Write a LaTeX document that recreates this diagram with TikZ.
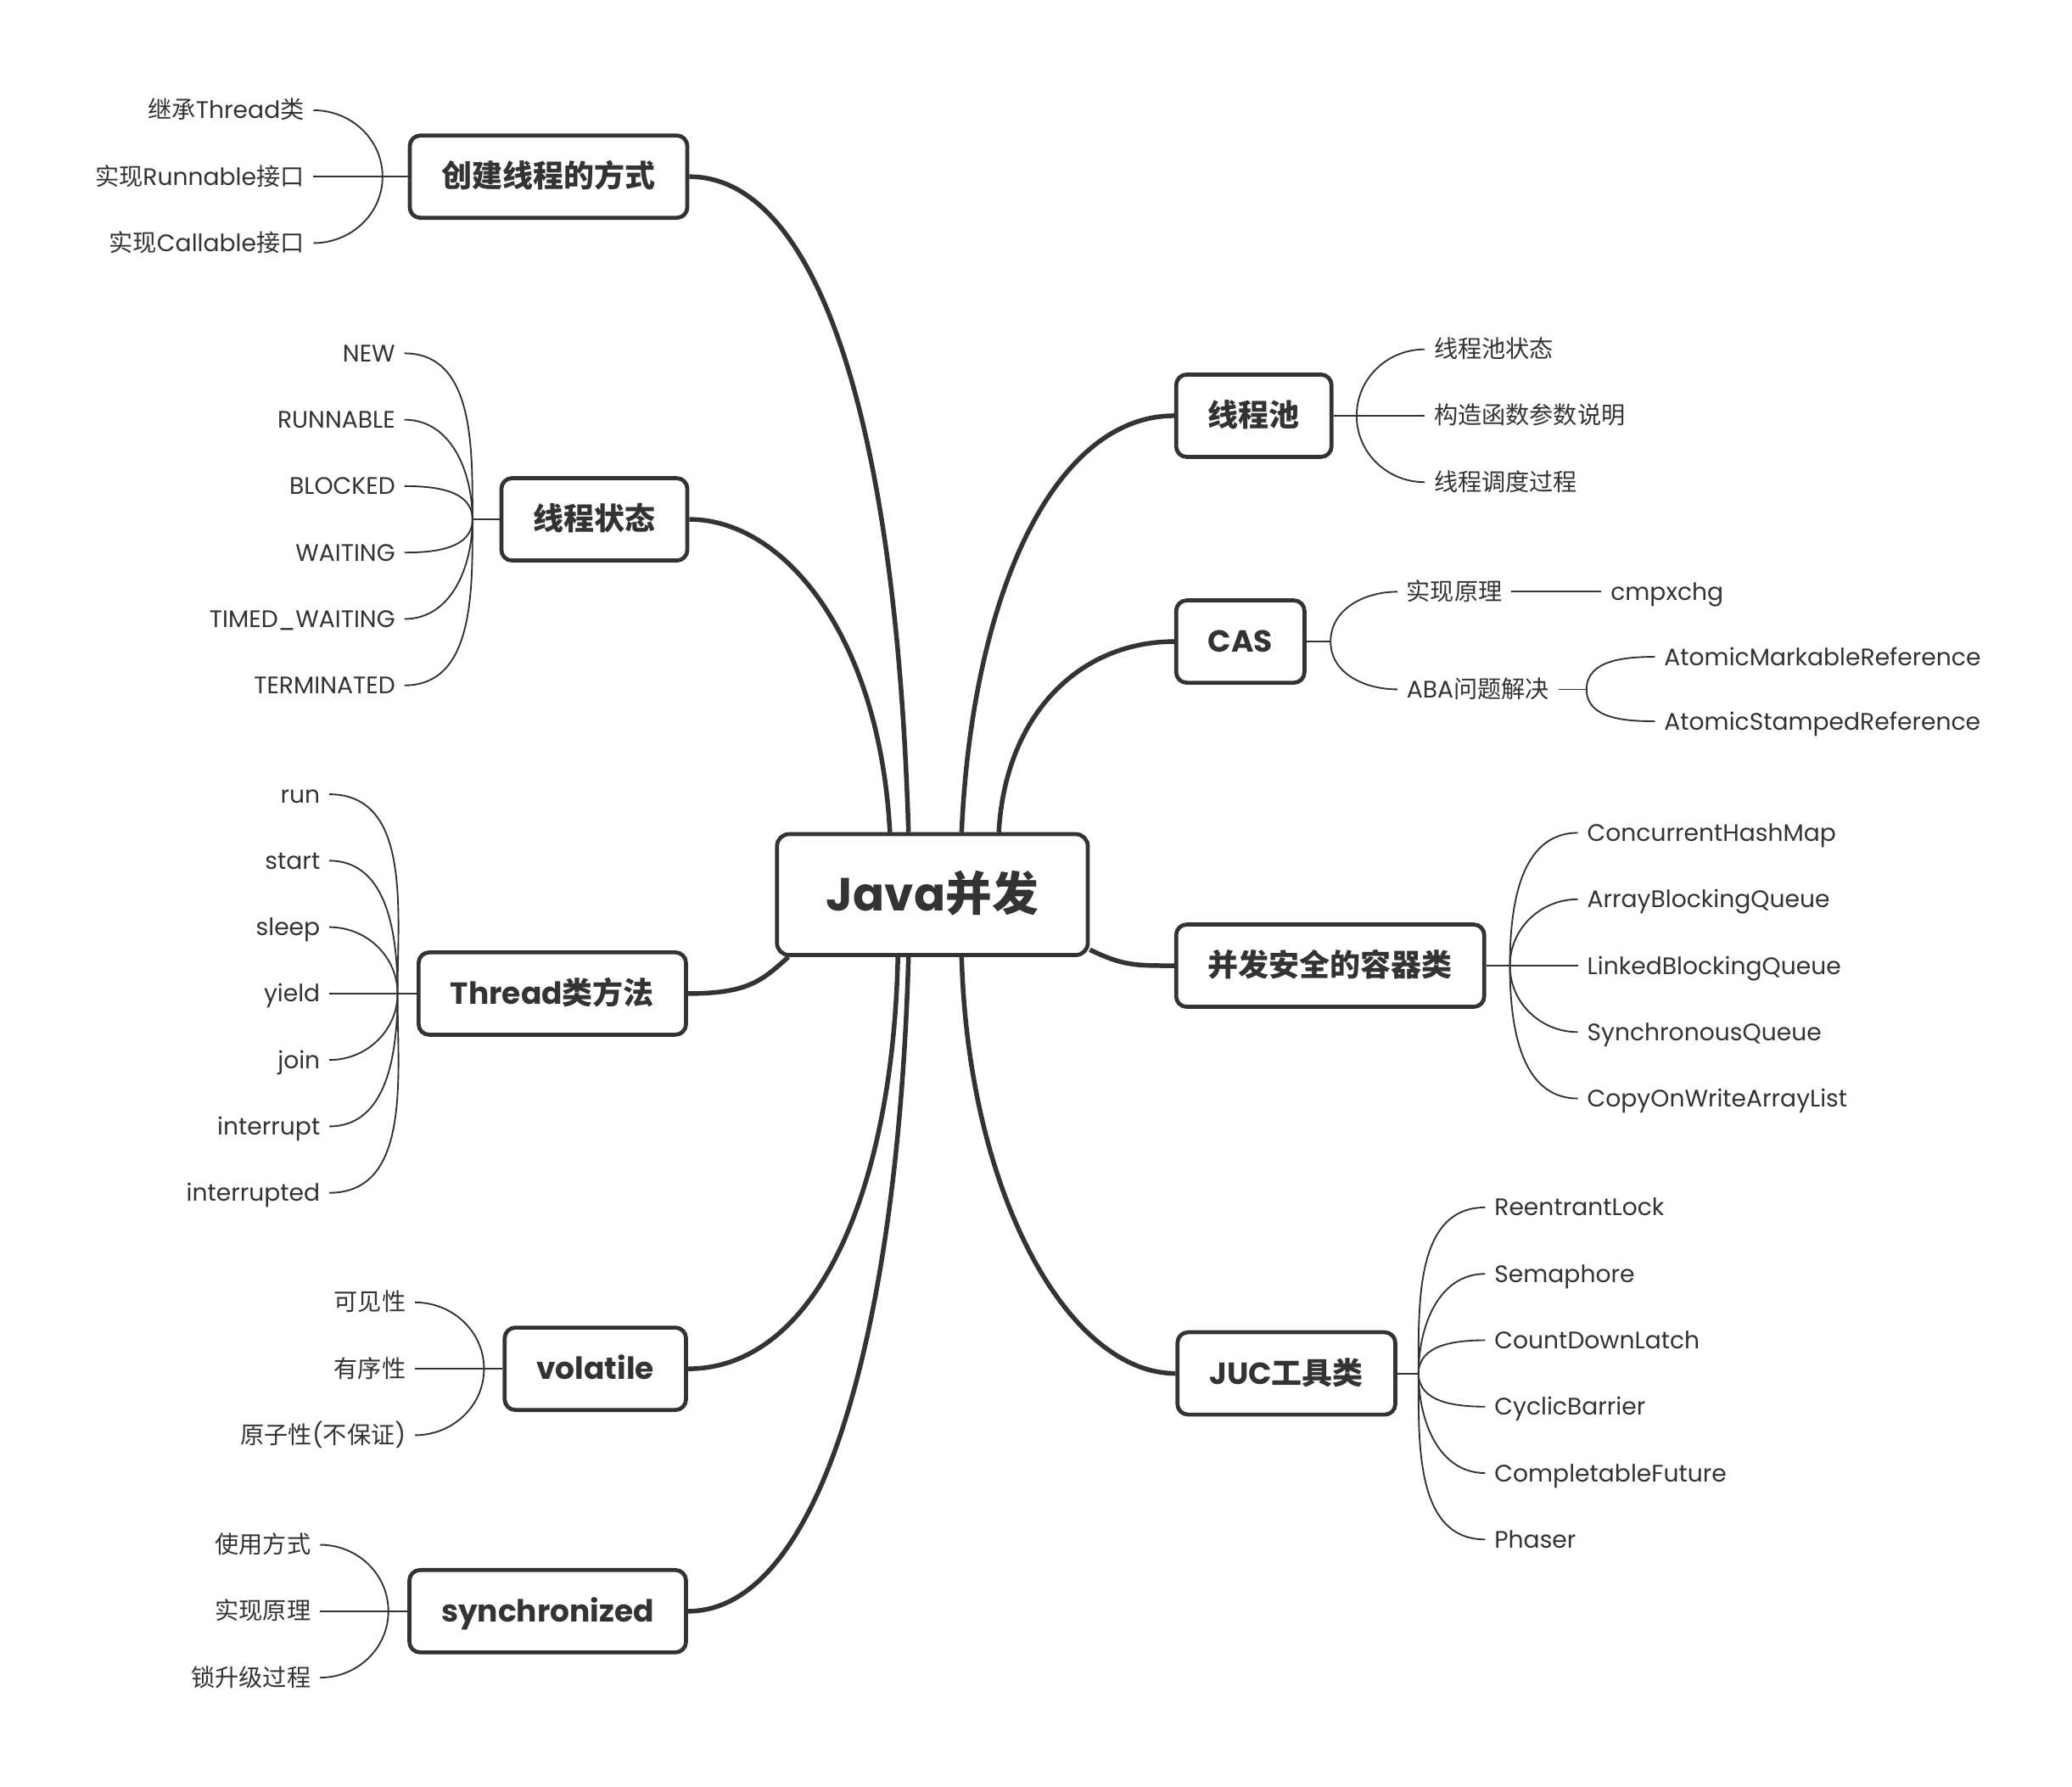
\documentclass[tikz,border=0pt]{standalone}
\usepackage{fontspec}
\setmainfont{Poppins}
\newfontfamily\zhfont{Noto Sans CJK SC}
\newcommand{\zh}[1]{{\zhfont #1}}
\usetikzlibrary{backgrounds}
\definecolor{ink}{HTML}{333333}

\begin{document}
\begin{tikzpicture}[
    x=1pt, y=-1pt,
    root/.style={rectangle, rounded corners=9pt, draw=ink, line width=3pt, fill=white, minimum width=234pt, minimum height=91pt, text=ink, text height=26pt, text depth=1pt, font=\fontsize{35}{40}\selectfont\bfseries},
    branch/.style={rectangle, rounded corners=8pt, draw=ink, line width=3pt, fill=white, minimum height=62pt, inner xsep=24pt, text=ink, text height=17pt, text depth=1pt, font=\fontsize{23}{26}\selectfont\bfseries},
    leaf/.style={inner xsep=7pt, inner ysep=0pt, outer sep=0pt, text=ink, text height=15.8pt, text depth=3pt, font=\fontsize{18}{21}\selectfont},
    leafl/.style={leaf, anchor=east},
    leafr/.style={leaf, anchor=west},
    trunk/.style={draw=ink, line width=3.5pt},
    twig/.style={draw=ink, line width=1.2pt}
    ]
    \useasboundingbox (0,0) rectangle (1560,1345.3);

    % Root
    \node (java) [root] at (702,673.5) {Java\zh{并发}};

    % Left branches
    \node (create) [branch, anchor=east] at (519,133) {\zh{创建线程的方式}};
    \node (state) [branch, anchor=east] at (519,391) {\zh{线程状态}};
    \node (method) [branch, anchor=east] at (518,748) {Thread\zh{类方法}};
    \node (vol) [branch, anchor=east] at (518,1030.5) {volatile};
    \node (sync) [branch, anchor=east] at (518,1213) {synchronized};

    % Right branches
    \node (pool) [branch, anchor=west] at (884,313) {\zh{线程池}};
    \node (cas) [branch, anchor=west] at (884,483) {CAS};
    \node (coll) [branch, anchor=west] at (884,727) {\zh{并发安全的容器类}};
    \node (juc) [branch, anchor=west] at (885,1034) {JUC\zh{工具类}};

    % Leaves - create
    \node (create1) [leafl] at (236,83) {\zh{继承}Thread\zh{类}};
    \node (create2) [leafl] at (236,133) {\zh{实现}Runnable\zh{接口}};
    \node (create3) [leafl] at (236,183) {\zh{实现}Callable\zh{接口}};
    \coordinate (createfk) at (288,133);

    % Leaves - state
    \node (state1) [leafl] at (304.5,266) {NEW};
    \node (state2) [leafl] at (304.5,316) {RUNNABLE};
    \node (state3) [leafl] at (304.5,366) {BLOCKED};
    \node (state4) [leafl] at (304.5,416) {WAITING};
    \node (state5) [leafl] at (304.5,466) {TIMED\_WAITING};
    \node (state6) [leafl] at (304.5,516) {TERMINATED};
    \coordinate (statefk) at (355.7,391);

    % Leaves - method
    \node (method1) [leafl] at (248,598) {run};
    \node (method2) [leafl] at (248,648) {start};
    \node (method3) [leafl] at (248,698) {sleep};
    \node (method4) [leafl] at (248,748) {yield};
    \node (method5) [leafl] at (248,798) {join};
    \node (method6) [leafl] at (248,848) {interrupt};
    \node (method7) [leafl] at (248,898) {interrupted};
    \coordinate (methodfk) at (299.3,748);

    % Leaves - vol
    \node (vol1) [leafl] at (312.5,980.5) {\zh{可见性}};
    \node (vol2) [leafl] at (312.5,1030.5) {\zh{有序性}};
    \node (vol3) [leafl] at (312.5,1080.5) {\zh{原子性}(\zh{不保证})};
    \coordinate (volfk) at (364.4,1030.5);

    % Leaves - sync
    \node (sync1) [leafl] at (241,1163) {\zh{使用方式}};
    \node (sync2) [leafl] at (241,1213) {\zh{实现原理}};
    \node (sync3) [leafl] at (241,1263) {\zh{锁升级过程}};
    \coordinate (syncfk) at (292.4,1213);

    % Leaves - pool
    \node (pool1) [leafr] at (1072.6,263) {\zh{线程池状态}};
    \node (pool2) [leafr] at (1072.6,313) {\zh{构造函数参数说明}};
    \node (pool3) [leafr] at (1072.6,363) {\zh{线程调度过程}};
    \coordinate (poolfk) at (1021.4,313);

    % Leaves - cas
    \node (cas1) [leafr] at (1052,445.5) {\zh{实现原理}};
    \node (cas2) [leafr] at (1052,519) {ABA\zh{问题解决}};
    \node (cmp) [leafr] at (1205.7,445.5) {cmpxchg};
    \node (aba1) [leafr] at (1246,494.5) {AtomicMarkableReference};
    \node (aba2) [leafr] at (1246,543) {AtomicStampedReference};
    \coordinate (casfk) at (1001.8,483);
    \coordinate (abafk) at (1194.5,519);

    % Leaves - coll
    \node (coll1) [leafr] at (1188,627) {ConcurrentHashMap};
    \node (coll2) [leafr] at (1188,677) {ArrayBlockingQueue};
    \node (coll3) [leafr] at (1188,727) {LinkedBlockingQueue};
    \node (coll4) [leafr] at (1188,777) {SynchronousQueue};
    \node (coll5) [leafr] at (1188,827) {CopyOnWriteArrayList};
    \coordinate (collfk) at (1136.8,727);

    % Leaves - juc
    \node (juc1) [leafr] at (1118.2,909) {ReentrantLock};
    \node (juc2) [leafr] at (1118.2,959) {Semaphore};
    \node (juc3) [leafr] at (1118.2,1009) {CountDownLatch};
    \node (juc4) [leafr] at (1118.2,1059) {CyclicBarrier};
    \node (juc5) [leafr] at (1118.2,1109) {CompletableFuture};
    \node (juc6) [leafr] at (1118.2,1159) {Phaser};
    \coordinate (jucfk) at (1068,1034);

    % Trunks - root to branches
    \begin{scope}[on background layer]
    \fill [white] (0,0) rectangle (1560,1345.3);
    \draw [trunk] ([xshift=-18pt]java.north) .. controls +(-10,-330) and +(90,0) .. (create.east);
    \draw [trunk] ([xshift=-32pt]java.north) .. controls +(-8,-150) and +(70,0) .. (state.east);
    \draw [trunk] ([xshift=10pt]java.south west) .. controls +(-20,18) and +(45,0) .. (method.east);
    \draw [trunk] ([xshift=-26pt]java.south) .. controls +(-4,180) and +(95,0) .. (vol.east);
    \draw [trunk] ([xshift=-18pt]java.south) .. controls +(-8,280) and +(100,0) .. (sync.east);
    \draw [trunk] ([xshift=22pt]java.north) .. controls +(8,-180) and +(-90,0) .. (pool.west);
    \draw [trunk] ([xshift=50pt]java.north) .. controls +(5,-90) and +(-70,0) .. (cas.west);
    \draw [trunk] ([yshift=5.5pt]java.south east) .. controls +(25,12) and +(-30,0) .. (coll.west);
    \draw [trunk] ([xshift=22pt]java.south) .. controls +(5,180) and +(-80,0) .. (juc.west);
    \end{scope}

    % Twigs - left
    \draw [twig] (create1.east) to[out=0, in=90] (createfk);
    \draw [twig] (create2.east) -- (createfk) -- (create.west);
    \draw [twig] (create3.east) to[out=0, in=-90] (createfk);

    \draw [twig] (state1.east) to[out=0, in=90] (statefk);
    \draw [twig] (state2.east) to[out=0, in=90] (statefk);
    \draw [twig] (state3.east) to[out=0, in=90] (statefk);
    \draw [twig] (state4.east) to[out=0, in=-90] (statefk);
    \draw [twig] (state5.east) to[out=0, in=-90] (statefk);
    \draw [twig] (state6.east) to[out=0, in=-90] (statefk);
    \draw [twig] (statefk) -- (state.west);

    \draw [twig] (method1.east) to[out=0, in=90] (methodfk);
    \draw [twig] (method2.east) to[out=0, in=90] (methodfk);
    \draw [twig] (method3.east) to[out=0, in=90] (methodfk);
    \draw [twig] (method4.east) -- (methodfk) -- (method.west);
    \draw [twig] (method5.east) to[out=0, in=-90] (methodfk);
    \draw [twig] (method6.east) to[out=0, in=-90] (methodfk);
    \draw [twig] (method7.east) to[out=0, in=-90] (methodfk);

    \draw [twig] (vol1.east) to[out=0, in=90] (volfk);
    \draw [twig] (vol2.east) -- (volfk) -- (vol.west);
    \draw [twig] (vol3.east) to[out=0, in=-90] (volfk);

    \draw [twig] (sync1.east) to[out=0, in=90] (syncfk);
    \draw [twig] (sync2.east) -- (syncfk) -- (sync.west);
    \draw [twig] (sync3.east) to[out=0, in=-90] (syncfk);

    % Twigs - right
    \draw [twig] (pool.east) -- (poolfk) -- (pool2.west);
    \draw [twig] (poolfk) to[out=90, in=180] (pool1.west);
    \draw [twig] (poolfk) to[out=-90, in=180] (pool3.west);

    \draw [twig] (cas.east) -- (casfk);
    \draw [twig] (casfk) to[out=90, in=180] (cas1.west);
    \draw [twig] (casfk) to[out=-90, in=180] (cas2.west);
    \draw [twig] (cas1.east) -- (cmp.west);
    \draw [twig] (cas2.east) -- (abafk);
    \draw [twig] (abafk) to[out=90, in=180] (aba1.west);
    \draw [twig] (abafk) to[out=-90, in=180] (aba2.west);

    \draw [twig] (coll.east) -- (collfk) -- (coll3.west);
    \draw [twig] (collfk) to[out=90, in=180] (coll1.west);
    \draw [twig] (collfk) to[out=90, in=180] (coll2.west);
    \draw [twig] (collfk) to[out=-90, in=180] (coll4.west);
    \draw [twig] (collfk) to[out=-90, in=180] (coll5.west);

    \draw [twig] (juc.east) -- (jucfk);
    \draw [twig] (jucfk) to[out=90, in=180] (juc1.west);
    \draw [twig] (jucfk) to[out=90, in=180] (juc2.west);
    \draw [twig] (jucfk) to[out=90, in=180] (juc3.west);
    \draw [twig] (jucfk) to[out=-90, in=180] (juc4.west);
    \draw [twig] (jucfk) to[out=-90, in=180] (juc5.west);
    \draw [twig] (jucfk) to[out=-90, in=180] (juc6.west);

\end{tikzpicture}
\end{document}
